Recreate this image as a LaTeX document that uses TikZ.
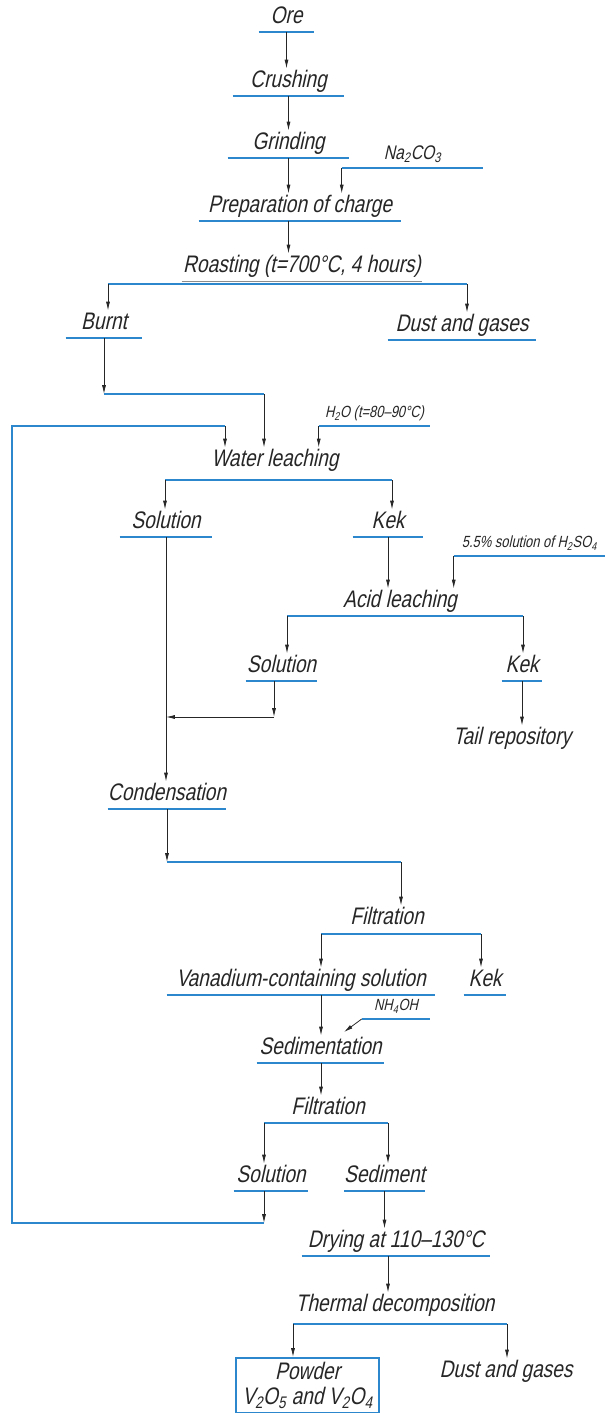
\documentclass[tikz,border=0pt]{standalone}
\usepackage{fontspec}
\setmainfont{Liberation Sans}[FakeStretch=0.8,FakeSlant=0.22]
\usetikzlibrary{arrows.meta}
\definecolor{ublue}{RGB}{45,135,205}
\newcommand\bigtxt{\fontsize{17}{20}\selectfont}
\newcommand\midtxt{\fontsize{14}{16}\selectfont}
\newcommand\smalltxt{\fontsize{11.5}{13}\selectfont}

\begin{document}
\begin{tikzpicture}[x=0.025cm, y=-0.025cm,
    blueline/.style={draw=ublue, line width=1.3pt},
    grayline/.style={draw=black!45, line width=0.7pt},
    arr/.style={-{Latex[length=2.2mm,width=1mm]}, line width=0.55pt, black!85},
    split/.style={inner sep=0pt, anchor=south, text height=0.475cm, text depth=0.2cm, font=\bigtxt, text=black!85},
    stage/.style={split, minimum width=#1*0.025cm,
        append after command={(\tikzlastnode.south west) edge[blueline] (\tikzlastnode.south east)}}]
    \useasboundingbox (0,0) rectangle (607,1413);

    % Ore preparation
    \node[stage=55] (ore) at (286.5,32) {Ore};
    \node[stage=111] (crush) at (288.5,96) {Crushing};
    \node[stage=121] (grind) at (288.5,158) {Grinding};
    \node[stage=141, font=\midtxt] (soda) at (412.5,168) {Na\textsubscript{2}CO\textsubscript{3}};
    \node[stage=202] (prep) at (300,221) {Preparation of charge};
    \draw[arr] (ore.south) -- (ore.south |- crush.north);
    \draw[arr] (crush.south) -- (crush.south |- grind.north);
    \draw[arr] (grind.south) -- (grind.south |- prep.north);
    \draw[arr] (soda.south west) -- (soda.south west |- prep.north);

    % Roasting
    \node[split, minimum width=240*0.025cm] (roast) at (302,281) {Roasting (t=700°C, 4 hours)};
    \draw[grayline] (roast.south west) -- (roast.south east);
    \draw[arr] (grind.south |- prep.south) -- (grind.south |- roast.north);
    \coordinate (roastL) at (108,284);
    \coordinate (roastR) at (467,284);
    \draw[blueline] (roastL) -- (roastR);
    \node[stage=76] (burnt) at (104,338) {Burnt};
    \node[stage=148] (dust) at (462,340) {Dust and gases};
    \draw[arr] (roastL) -- (roastL |- burnt.north);
    \draw[arr] (roastR) -- (roastR |- dust.north);

    % Water leaching
    \node[split, text depth=0.3cm] (wl) at (275,479) {Water leaching};
    \node[stage=111, font=\smalltxt] (water) at (374.5,426) {H\textsubscript{2}O (t=80--90°C)};
    \coordinate (bendA) at (104,394);
    \coordinate (bendB) at (264,394);
    \draw[arr] (burnt.south) -- (bendA);
    \draw[blueline] (bendA) -- (bendB);
    \draw[arr] (bendB) -- (bendB |- wl.north);
    \draw[arr] (water.south west) -- (water.south west |- wl.north);
    \coordinate (wlL) at (165,480);
    \coordinate (wlR) at (392,480);
    \draw[blueline] (wlL) -- (wlR);
    \node[stage=92] (sol1) at (166,537) {Solution};
    \node[stage=70] (kek1) at (388,537) {Kek};
    \draw[arr] (wlL) -- (wlL |- sol1.north);
    \draw[arr] (wlR) -- (wlR |- kek1.north);

    % Acid leaching
    \node[split] (acid) at (400,616) {Acid leaching};
    \node[stage=151, font=\smalltxt] (acidsrc) at (529.5,556) {5.5\% solution of H\textsubscript{2}SO\textsubscript{4}};
    \draw[arr] (kek1.south) -- (kek1.south |- acid.north);
    \draw[arr] (acidsrc.south west) -- (acidsrc.south west |- acid.north);
    \coordinate (acL) at (287,616);
    \coordinate (acR) at (523,616);
    \draw[blueline] (acL) -- (acR);
    \node[stage=71] (sol2) at (281.5,681) {Solution};
    \node[stage=40] (kek2) at (522,681) {Kek};
    \node[split] (tail) at (512,753) {Tail repository};
    \draw[arr] (acL) -- (acL |- sol2.north);
    \draw[arr] (acR) -- (acR |- kek2.north);
    \draw[arr] (kek2.south) -- (kek2.south |- tail.north);

    % Solutions joined
    \coordinate (mix) at (274,717);
    \draw[arr] (sol2.south -| mix) -- (mix);
    \draw[arr] (mix) -- (mix -| sol1.south);
    \node[stage=116] (cond) at (167,809) {Condensation};
    \draw[arr] (sol1.south) -- (sol1.south |- cond.north);

    % First filtration
    \node[split, text depth=0.225cm] (filt1) at (387,934) {Filtration};
    \coordinate (bendC) at (167,862);
    \coordinate (bendD) at (401,862);
    \draw[arr] (cond.south) -- (bendC);
    \draw[blueline] (bendC) -- (bendD);
    \draw[arr] (bendD) -- (bendD |- filt1.north);
    \coordinate (f1L) at (321,934);
    \coordinate (f1R) at (481,934);
    \draw[blueline] (f1L) -- (f1R);
    \node[stage=268] (vsol) at (301,995) {Vanadium-containing solution};
    \node[stage=42] (kek3) at (485,995) {Kek};
    \draw[arr] (f1L) -- (f1L |- vsol.north);
    \draw[arr] (f1R) -- (f1R |- kek3.north);

    % Sedimentation
    \node[stage=127] (sed) at (320.5,1063) {Sedimentation};
    \node[stage=68, font=\smalltxt] (ammonia) at (396,1019) {NH\textsubscript{4}OH};
    \coordinate (nhtip) at (344,1032);
    \draw[arr] (f1L |- vsol.south) -- (f1L |- sed.north);
    \draw[arr] (ammonia.south west) -- (nhtip);

    % Second filtration
    \node[split] (filt2) at (328,1123) {Filtration};
    \draw[arr] (f1L |- sed.south) -- (f1L |- filt2.north);
    \coordinate (f2L) at (264,1123);
    \coordinate (f2R) at (388,1123);
    \draw[blueline] (f2L) -- (f2R);
    \node[stage=74] (sol3) at (271,1191) {Solution};
    \node[stage=75] (sedim) at (384.5,1191) {Sediment};
    \draw[arr] (f2L) -- (f2L |- sol3.north);
    \draw[arr] (f2R) -- (f2R |- sedim.north);

    % Solution back to water leaching
    \coordinate (fbA) at (264,1223);
    \coordinate (fbB) at (12,1223);
    \coordinate (fbC) at (12,426);
    \coordinate (fbD) at (225,426);
    \draw[arr] (sol3.south -| fbA) -- (fbA);
    \draw[blueline] (fbA) -- (fbB) -- (fbC) -- (fbD);
    \draw[arr] (fbD) -- (fbD |- wl.north);

    % Drying and decomposition
    \node[stage=188] (dry) at (396,1256) {Drying at 110--130°C};
    \node[split, text depth=0.3cm] (therm) at (395,1324) {Thermal decomposition};
    \draw[arr] (sedim.south) -- (sedim.south |- dry.north);
    \draw[arr] (f2R |- dry.south) -- (f2R |- therm.north);
    \coordinate (thL) at (293,1324);
    \coordinate (thR) at (507,1324);
    \draw[blueline] (thL) -- (thR);
    \node[draw=ublue, line width=1.2pt, inner sep=0pt, anchor=north, align=center,
        minimum width=143*0.025cm, minimum height=55*0.025cm, font=\fontsize{17}{18}\selectfont, text=black!85]
        (powder) at (307.5,1357) {Powder\\V\textsubscript{2}O\textsubscript{5} and V\textsubscript{2}O\textsubscript{4}};
    \node[split] (dust2) at (506,1386) {Dust and gases};
    \draw[arr] (thL) -- (thL |- powder.north);
    \draw[arr] (thR) -- (thR |- dust2.north);
\end{tikzpicture}
\end{document}
